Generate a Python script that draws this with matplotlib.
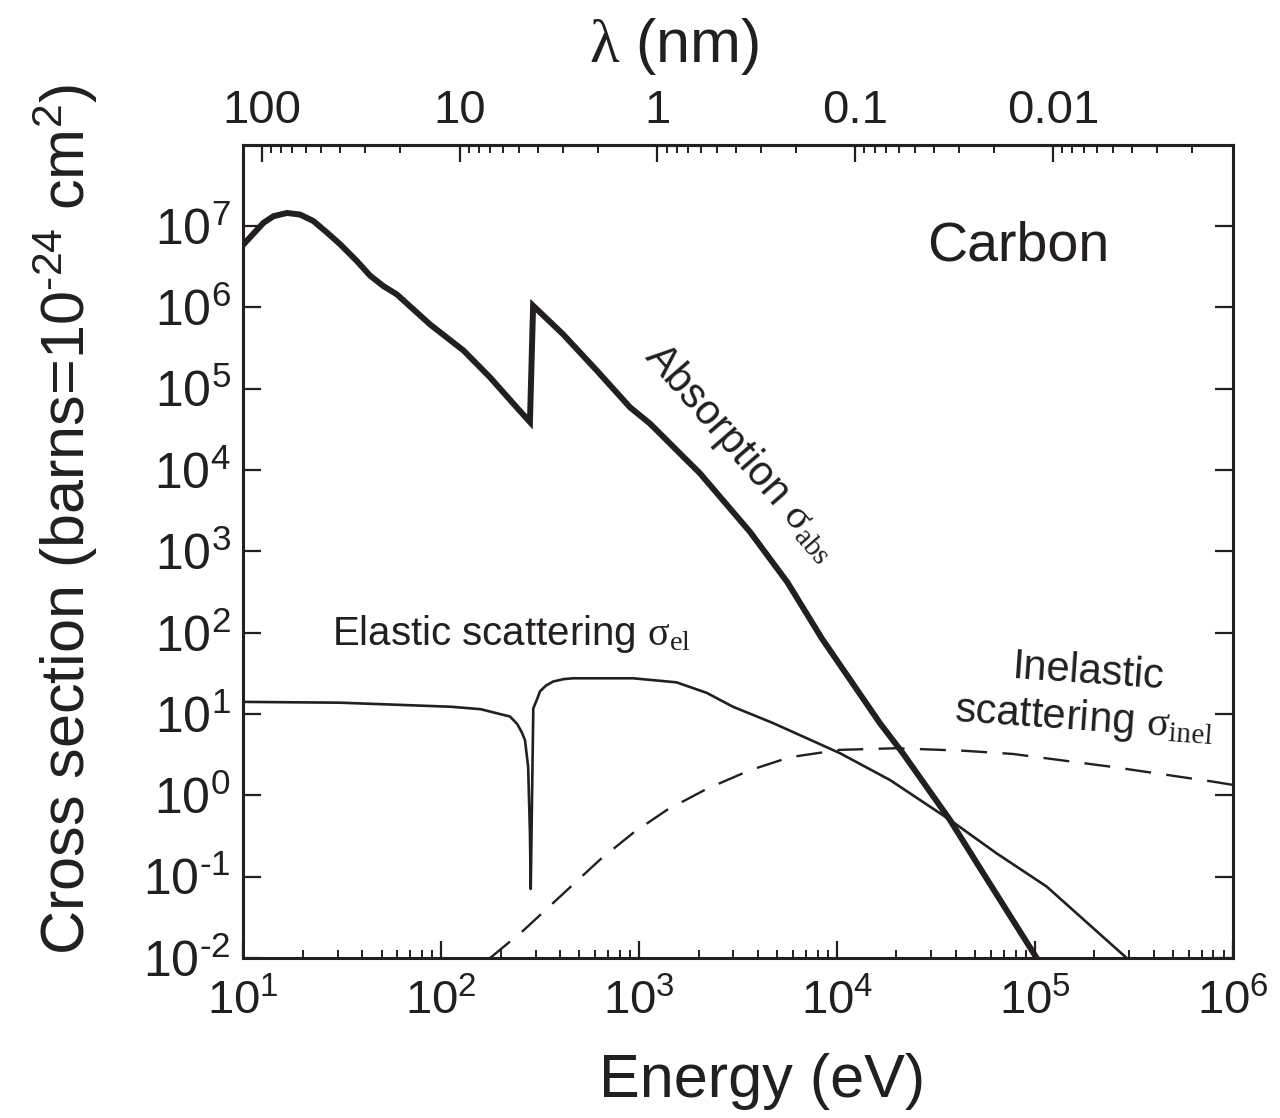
import numpy as np
import matplotlib
matplotlib.use('Agg')
import matplotlib.pyplot as plt
from matplotlib.ticker import (FixedLocator, FixedFormatter, FuncFormatter, LogLocator,
                               NullFormatter, NullLocator)

plt.rcParams['font.family'] = ['Liberation Sans', 'DejaVu Sans']
plt.rcParams['mathtext.fontset'] = 'custom'
plt.rcParams['mathtext.rm'] = 'Liberation Serif'
plt.rcParams['mathtext.it'] = 'Liberation Serif:italic'
plt.rcParams['mathtext.bf'] = 'Liberation Serif:bold'

####################### dati (log10) #######################
# Assorbimento
abs_logE = [1.002, 1.103, 1.153, 1.221, 1.288, 1.355, 1.423, 1.490, 1.574, 1.641,
            1.709, 1.776, 1.944, 2.113, 2.247, 2.382, 2.449, 2.465, 2.616, 2.788,
            2.955, 3.056, 3.308, 3.561, 3.750, 3.924, 4.217, 4.333, 4.571, 4.720,
            5.010]
abs_logS = [6.775, 7.04, 7.12, 7.16, 7.14, 7.06, 6.92, 6.775, 6.57, 6.39,
            6.26, 6.16, 5.79, 5.47, 5.14, 4.77, 4.59, 6.02, 5.67, 5.22,
            4.77, 4.57, 3.96, 3.24, 2.62, 1.93, 0.89, 0.52, -0.30, -0.88,
            -2.00]

# Scattering elastico
el_logE = [1.000, 1.490, 1.827, 2.050, 2.200, 2.298, 2.348, 2.384, 2.407, 2.424,
           2.440, 2.449, 2.453, 2.466, 2.483, 2.500, 2.530, 2.566, 2.620, 2.667,
           2.803, 2.970, 3.190, 3.343, 3.475, 3.677, 4.015, 4.268, 4.571, 4.806,
           5.060, 5.465]
el_logS = [1.15, 1.14, 1.11, 1.09, 1.06, 1.00, 0.97, 0.88, 0.78, 0.68,
           0.35, -0.46, -1.15, 1.07, 1.17, 1.28, 1.35, 1.40, 1.43, 1.44,
           1.44, 1.44, 1.39, 1.26, 1.09, 0.89, 0.52, 0.19, -0.30, -0.71,
           -1.12, -2.00]

# Scattering anelastico
inel_logE = [2.247, 2.416, 2.567, 2.803, 2.971, 3.140, 3.342, 3.561, 3.763, 4.015,
             4.300, 4.636, 4.889, 5.394, 5.899, 6.000]
inel_logS = [-2.00, -1.66, -1.32, -0.79, -0.46, -0.18, 0.08, 0.31, 0.47, 0.56,
             0.58, 0.55, 0.51, 0.35, 0.17, 0.13]

# asse superiore (lunghezza d'onda)
lam_ticks = [100, 10, 1, 0.1, 0.01]
lam_labels = ['100', '10', '1', '0.1', '0.01']
hc = 1239.84  # eV nm

col = '#231f20'
HY = '\u2010'   # trattino corto negli esponenti

fig = plt.figure(figsize=(12.8, 11.18), dpi=100)
ax = fig.add_axes([0.19, 0.143, 0.773, 0.727])

ax.plot(10**np.array(abs_logE), 10**np.array(abs_logS), color=col, lw=4.3,
        solid_joinstyle='miter')
ax.plot(10**np.array(el_logE), 10**np.array(el_logS), color=col, lw=1.9)
ax.plot(10**np.array(inel_logE), 10**np.array(inel_logS), color=col, lw=1.7,
        dashes=(11, 6.5))

ax.set_xscale('log')
ax.set_yscale('log')
ax.set_xlim(10, 1e6)
ax.set_ylim(1e-2, 0.98e8)

def pot10(v, pos):
    k = int(round(np.log10(v)))
    return '$\\mathdefault{10^{%s}}$' % str(k).replace('-', HY)

ax.yaxis.set_major_locator(FixedLocator([10.0**k for k in range(-2, 8)]))
ax.yaxis.set_major_formatter(FuncFormatter(pot10))
ax.yaxis.set_minor_locator(NullLocator())
ax.xaxis.set_major_locator(LogLocator(base=10, numticks=10))
ax.xaxis.set_major_formatter(FuncFormatter(pot10))
ax.xaxis.set_minor_locator(LogLocator(base=10, subs=np.arange(2, 10), numticks=50))
ax.xaxis.set_minor_formatter(NullFormatter())

for s in ax.spines.values():
    s.set_linewidth(2.2)
    s.set_color(col)

ax.tick_params(axis='x', which='major', direction='in', length=12, width=1.6,
               labelsize=34, pad=15, top=False, colors=col)
ax.tick_params(axis='x', which='minor', direction='in', length=6, width=1.4, top=False,
               colors=col)
ax.tick_params(axis='y', which='major', direction='in', length=13, width=1.6,
               labelsize=36, pad=9, left=True, right=True, colors=col)

ax.set_xlabel('Energy (eV)', fontsize=44, color=col)
ax.xaxis.set_label_coords(0.524, -0.117)
ax.set_ylabel('Cross section (barns=$\\mathdefault{10^{%s24}}$ cm$\\mathdefault{^{2}}$)' % HY,
              fontsize=44, color=col)
ax.yaxis.set_label_coords(-0.145, 0.54)

# asse superiore in lambda (nm)
f = lambda x: hc / x
sec = ax.secondary_xaxis('top', functions=(f, f))
sec.set_xticks(lam_ticks)
sec.xaxis.set_major_formatter(FixedFormatter(lam_labels))
sec.xaxis.set_minor_locator(LogLocator(base=10, subs=np.arange(2, 10), numticks=50))
sec.xaxis.set_minor_formatter(NullFormatter())
sec.tick_params(which='major', direction='in', length=12, width=1.6, labelsize=34,
                pad=9, colors=col)
sec.tick_params(which='minor', direction='in', length=6, width=1.4, colors=col)
sec.spines['top'].set_linewidth(2.2)
fig.text(0.527, 0.958, '$\\mathrm{\\lambda}$ (nm)', fontsize=44, color=col,
         ha='center', va='center')

# etichette
ax.text(0.783, 0.875, 'Carbon', transform=ax.transAxes, fontsize=40,
        ha='center', va='center', color=col)
ax.text(0.503, 0.622, 'Absorption $\\mathrm{\\sigma_{abs}}$', transform=ax.transAxes,
        fontsize=30, ha='center', va='center', rotation=-49, rotation_mode='anchor',
        color=col)
ax.text(0.09, 0.385, 'Elastic scattering $\\mathrm{\\sigma_{el}}$', transform=ax.transAxes,
        fontsize=29, ha='left', va='baseline', color=col)
ax.text(0.852, 0.322, 'Inelastic\nscattering $\\mathrm{\\sigma_{inel}}$',
        transform=ax.transAxes, fontsize=30, ha='center', va='center',
        multialignment='center', rotation=-4, rotation_mode='anchor',
        linespacing=1.15, color=col)

plt.savefig('out.png', dpi=100)
